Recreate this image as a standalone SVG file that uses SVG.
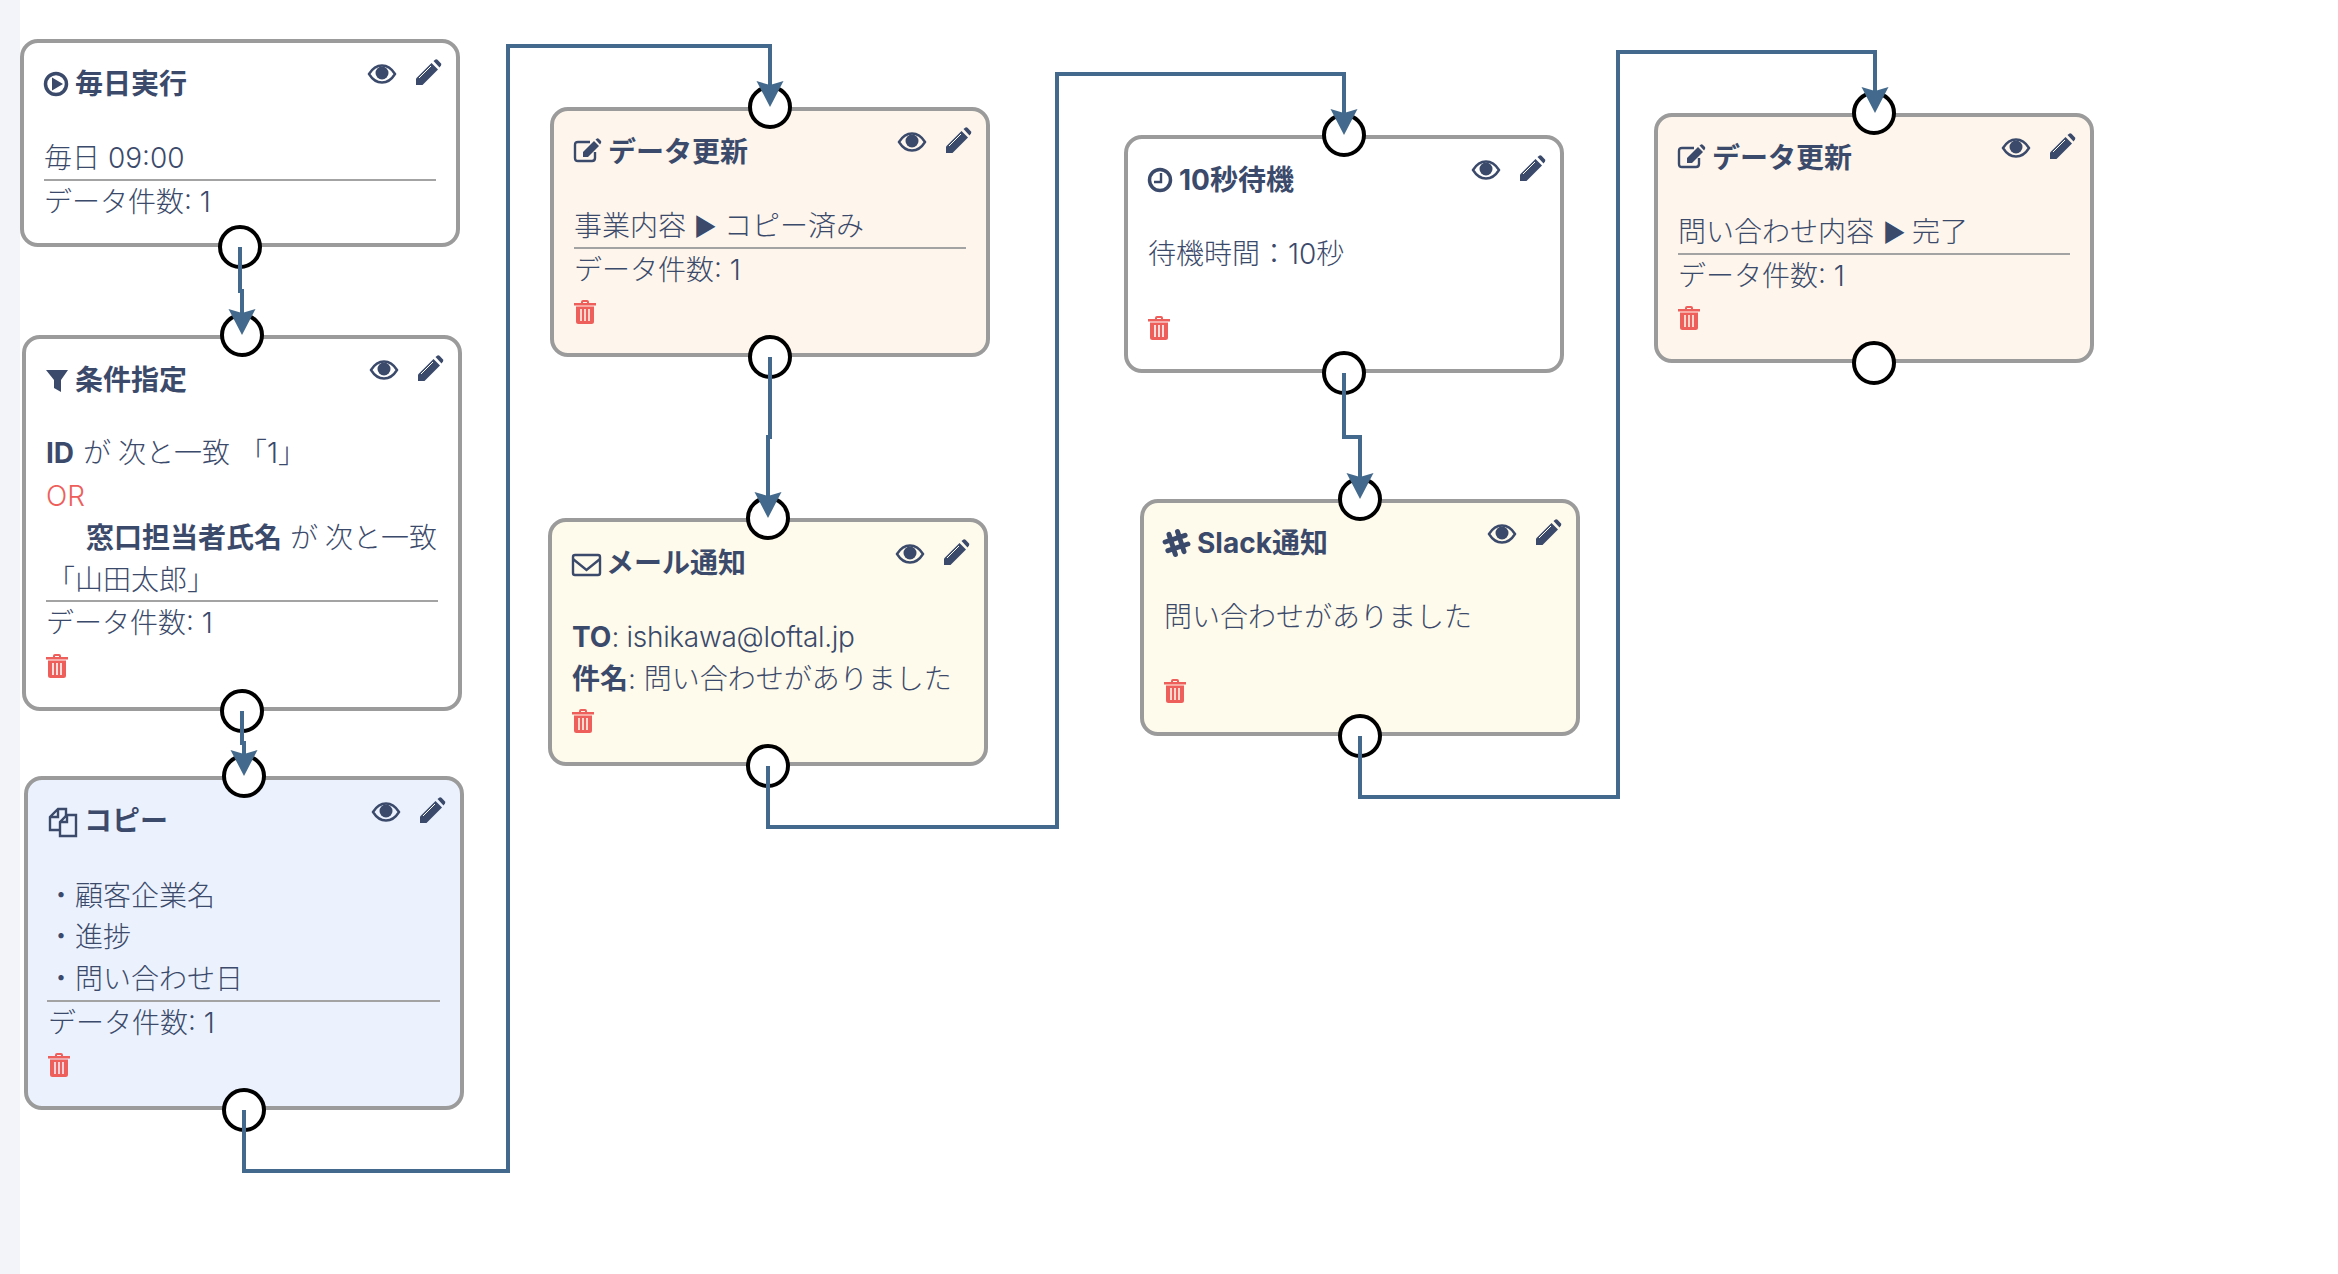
<svg xmlns="http://www.w3.org/2000/svg" width="2338" height="1274" viewBox="0 0 2338 1274">
<style>
text{font-family:Inter,"Noto Sans CJK JP","Noto Sans",sans-serif;font-size:28px;font-weight:300;fill:#3b4a6b}
.t{font-weight:700}
.b{font-weight:700}
.or{fill:#ee5f5b}
.lat{letter-spacing:-0.3px}
.tri{font-size:25px}
.card{stroke:#9b9b9b;stroke-width:4}
.w{fill:#fff}.blue{fill:#ebf2fd}.org{fill:#fef6ec}.yel{fill:#fffbec}
.div{stroke:#a3a3a3;stroke-width:2}
.port{fill:#fff;stroke:#000;stroke-width:4}
.ic{fill:#3b4a6b}
.ol{fill:none;stroke:#3b4a6b;stroke-width:2.4}
.ring{fill:none;stroke:#3b4a6b;stroke-width:3.5}
.tr{fill:#ee5f5b}
.conn{fill:none;stroke:#436a8c;stroke-width:4}
</style>
<defs>
<marker id="arrow" markerUnits="userSpaceOnUse" markerWidth="28" markerHeight="28" refX="18" refY="13.500" orient="auto">
<path d="M0 0L26 13.500L0 27L4 13.500Z" fill="#436a8c"/>
</marker>
<g id="eye"><path class="ol" d="M-13 0C-9-6.500-4.500-8.500 0-8.500S9-6.500 13 0C9 6.500 4.500 8.500 0 8.500S-9 6.500-13 0Z"/><circle class="ic" cx="0" cy="-1" r="6.500"/></g>
<g id="pencil"><path class="ic" d="M-12 5.500L3.500-10L10-3.500L-5.500 12H-12Z"/><path class="ic" d="M5.500-12L7.500-13.500Q8.500-14 9.500-13.200L13-9.500Q13.600-8.500 13-7.500L11.500-5.500Z"/><path d="M-9 5L3-7" stroke="#fff" stroke-width="1" fill="none"/></g>
<path id="trash" class="tr" fill-rule="evenodd" d="M7 3V2Q7 0 9 0H13Q15 0 15 2V3H22V5.500H0V3ZM9 3H13V2H9ZM2 6.500H20V21.500Q20 24 17.500 24H4.500Q2 24 2 21.500ZM6.200 9V21H7.800V9ZM10.200 9V21H11.800V9ZM14.200 9V21H15.800V9Z"/>
<g id="edit"><path class="ol" d="M21 11V17Q21 20 18 20H4Q1 20 1 17V4Q1 1 4 1H16"/><path class="ic" d="M9 11L20 0L25 5L14 16H9Z"/><path class="ic" d="M21.500-1.500L23-2.500Q24-3 25-2L27 0Q27.500 1 27 2L26 3.500Z"/></g>
</defs>
<rect x="0" y="0" width="20" height="1274" fill="#f2f4f9"/>

<g id="n1">
<rect class="card w" x="22" y="41" width="436" height="204" rx="16"/>
<circle class="ring" cx="56" cy="84" r="10.500"/><path class="ic" d="M52 77.500L63 84L52 90.500Z"/>
<text class="t" x="75" y="94">毎日実行</text>
<use href="#eye" x="382" y="74"/><use href="#pencil" x="428" y="73"/>
<text x="44" y="168">毎日 09:00</text>
<line class="div" x1="44" y1="180" x2="436" y2="180"/>
<text x="44" y="212">データ件数: 1</text>
</g>

<g id="n2">
<rect class="card w" x="24" y="337" width="436" height="372" rx="16"/>
<path class="ic" d="M46 370H68L61 380V392L54 388V380Z"/>
<text class="t" x="75" y="390">条件指定</text>
<use href="#eye" x="384" y="370"/><use href="#pencil" x="430" y="369"/>
<text y="463"><tspan class="b" x="46">ID</tspan><tspan x="83">が</tspan><tspan x="118">次と一致</tspan><tspan x="239">「1」</tspan></text>
<text class="or" x="46" y="506">OR</text>
<text y="548"><tspan class="b" x="86">窓口担当者氏名</tspan><tspan x="290">が</tspan><tspan x="325">次と一致</tspan></text>
<text x="47" y="590">「山田太郎」</text>
<line class="div" x1="46" y1="601" x2="438" y2="601"/>
<text x="46" y="633">データ件数: 1</text>
<use href="#trash" x="46" y="654"/>
</g>

<g id="n3">
<rect class="card blue" x="26" y="778" width="436" height="330" rx="16"/>
<path class="ol" d="M60 830H50V817L58 809H66V816M58 809V817H50"/>
<path class="ol" d="M60 836V822L67 815H76V836ZM67 815V822H60"/>
<text class="t" x="84" y="831">コピー</text>
<use href="#eye" x="386" y="812"/><use href="#pencil" x="432" y="811"/>
<text x="47" y="906">・顧客企業名</text>
<text x="47" y="947">・進捗</text>
<text x="47" y="989">・問い合わせ日</text>
<line class="div" x1="47" y1="1001" x2="440" y2="1001"/>
<text x="48" y="1033">データ件数: 1</text>
<use href="#trash" x="48" y="1053"/>
</g>

<g id="n4">
<rect class="card org" x="552" y="109" width="436" height="246" rx="16"/>
<use href="#edit" x="574" y="141"/>
<text class="t" x="608" y="162">データ更新</text>
<use href="#eye" x="912" y="142"/><use href="#pencil" x="958" y="141"/>
<text y="236"><tspan x="574">事業内容</tspan><tspan class="tri" x="694">▶</tspan><tspan x="724">コピー済み</tspan></text>
<line class="div" x1="574" y1="248" x2="966" y2="248"/>
<text x="574" y="280">データ件数: 1</text>
<use href="#trash" x="574" y="300"/>
</g>

<g id="n5">
<rect class="card yel" x="550" y="520" width="436" height="244" rx="16"/>
<rect class="ol" x="573" y="555" width="27" height="20" rx="2"/><path class="ol" d="M573 559L586.500 570L600 559"/>
<text class="t" x="606" y="573">メール通知</text>
<use href="#eye" x="910" y="554"/><use href="#pencil" x="956" y="553"/>
<text y="647"><tspan class="b" x="572">TO</tspan><tspan class="lat">: ishikawa@loftal.jp</tspan></text>
<text y="689"><tspan class="b" x="572">件名</tspan><tspan>: 問い合わせがありました</tspan></text>
<use href="#trash" x="572" y="709"/>
</g>

<g id="n6">
<rect class="card w" x="1126" y="137" width="436" height="234" rx="16"/>
<circle class="ring" cx="1160" cy="180" r="10.500"/><path d="M1161 173V182H1154" fill="none" stroke="#3b4a6b" stroke-width="2.400"/>
<text class="t" x="1179" y="190">10秒待機</text>
<use href="#eye" x="1486" y="170"/><use href="#pencil" x="1532" y="169"/>
<text x="1148" y="264">待機時間：10秒</text>
<use href="#trash" x="1148" y="316"/>
</g>

<g id="n7">
<rect class="card yel" x="1142" y="501" width="436" height="233" rx="16"/>
<path d="M1169 534.400L1175.400 554.400M1177.500 531.600L1184 551.600M1165.100 542L1185.100 535.400M1167.900 550.600L1187.900 544" fill="none" stroke="#3b4a6b" stroke-width="5" stroke-linecap="round"/>
<text class="t" x="1197" y="553">Slack通知</text>
<use href="#eye" x="1502" y="534"/><use href="#pencil" x="1548" y="533"/>
<text x="1164" y="627">問い合わせがありました</text>
<use href="#trash" x="1164" y="679"/>
</g>

<g id="n8">
<rect class="card org" x="1656" y="115" width="436" height="246" rx="16"/>
<use href="#edit" x="1678" y="147"/>
<text class="t" x="1712" y="168">データ更新</text>
<use href="#eye" x="2016" y="148"/><use href="#pencil" x="2062" y="147"/>
<text y="242"><tspan x="1678">問い合わせ内容</tspan><tspan class="tri" x="1883">▶</tspan><tspan x="1912">完了</tspan></text>
<line class="div" x1="1678" y1="254" x2="2070" y2="254"/>
<text x="1678" y="286">データ件数: 1</text>
<use href="#trash" x="1678" y="306"/>
</g>

<g id="ports">
<circle class="port" cx="240" cy="247" r="20"/>
<circle class="port" cx="242" cy="335" r="20"/>
<circle class="port" cx="242" cy="711" r="20"/>
<circle class="port" cx="244" cy="776" r="20"/>
<circle class="port" cx="244" cy="1110" r="20"/>
<circle class="port" cx="770" cy="107" r="20"/>
<circle class="port" cx="770" cy="357" r="20"/>
<circle class="port" cx="768" cy="518" r="20"/>
<circle class="port" cx="768" cy="766" r="20"/>
<circle class="port" cx="1344" cy="135" r="20"/>
<circle class="port" cx="1344" cy="373" r="20"/>
<circle class="port" cx="1360" cy="499" r="20"/>
<circle class="port" cx="1360" cy="736" r="20"/>
<circle class="port" cx="1874" cy="113" r="20"/>
<circle class="port" cx="1874" cy="363" r="20"/>
</g>

<g id="connectors">
<path class="conn" marker-end="url(#arrow)" d="M240 247V291H242V327"/>
<path class="conn" marker-end="url(#arrow)" d="M242 711V743H244V768"/>
<path class="conn" marker-end="url(#arrow)" d="M244 1110V1171H508V46H770V99"/>
<path class="conn" marker-end="url(#arrow)" d="M770 357V437H768V510"/>
<path class="conn" marker-end="url(#arrow)" d="M768 766V827H1057V74H1344V127"/>
<path class="conn" marker-end="url(#arrow)" d="M1344 373V437H1360V491"/>
<path class="conn" marker-end="url(#arrow)" d="M1360 736V797H1618V52H1875V105"/>
</g>
</svg>
